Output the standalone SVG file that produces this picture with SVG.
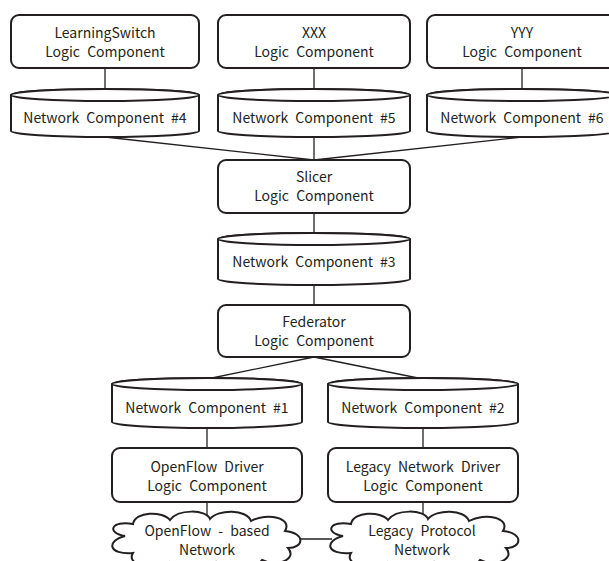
<svg xmlns="http://www.w3.org/2000/svg" width="609" height="561" viewBox="0 0 609 561">
  <defs>
    <style>
      .box { fill: #fff; stroke: #231f20; stroke-width: 2; }
      .cyl { fill: #fff; stroke: #231f20; stroke-width: 2; }
      .link { fill: none; stroke: #231f20; stroke-width: 1.3; }
      text { font-family: "Noto Sans CJK JP", "Noto Sans", sans-serif; font-size: 14px; fill: #231f20; text-anchor: middle; word-spacing: 4px; }
    </style>
    <!-- cloud outline, centred on the origin -->
    <path id="cloud" d="M -80,-3 C -99,-6 -94,-19 -72,-15 C -70,-28 -42,-28 -35,-19 C -27,-30 1,-30 5,-20 C 13,-30 42,-30 46,-18 C 62,-27 88,-21 80,-8 C 101,-6 99,9 83,9 C 93,21 71,28 57,21 C 49,32 17,32 11,23 C 1,33 -29,33 -36,23 C -50,30 -80,27 -72,14 C -97,16 -99,2 -80,-3 Z"/>
  </defs>

  <g id="connectors">
    <line class="link" x1="105" y1="68" x2="105" y2="89"/>
    <line class="link" x1="314" y1="68" x2="314" y2="89"/>
    <line class="link" x1="522" y1="68" x2="522" y2="89"/>
    <line class="link" x1="105" y1="137" x2="314" y2="160"/>
    <line class="link" x1="314" y1="137" x2="314" y2="160"/>
    <line class="link" x1="522" y1="137" x2="314" y2="160"/>
    <line class="link" x1="314" y1="213" x2="314" y2="233"/>
    <line class="link" x1="314" y1="285" x2="314" y2="305"/>
    <line class="link" x1="314" y1="357" x2="207" y2="379"/>
    <line class="link" x1="314" y1="357" x2="423" y2="379"/>
    <line class="link" x1="207" y1="427" x2="207" y2="448"/>
    <line class="link" x1="423" y1="427" x2="423" y2="448"/>
    <line class="link" x1="207" y1="502" x2="207" y2="515"/>
    <line class="link" x1="423" y1="502" x2="423" y2="515"/>
    <line class="link" x1="298" y1="539" x2="332" y2="539"/>
  </g>

  <g id="learningswitch">
    <rect class="box" x="11" y="15" width="188" height="53" rx="8"/>
    <text x="105" y="38">LearningSwitch</text>
    <text x="105" y="57">Logic Component</text>
  </g>
  <g id="xxx">
    <rect class="box" x="218" y="15" width="192" height="53" rx="8"/>
    <text x="314" y="38">XXX</text>
    <text x="314" y="57">Logic Component</text>
  </g>
  <g id="yyy">
    <rect class="box" x="427" y="15" width="190" height="53" rx="8"/>
    <text x="522" y="38">YYY</text>
    <text x="522" y="57">Logic Component</text>
  </g>

  <g id="nc4">
    <path class="cyl" d="M 11,95 A 94,6 0 0 1 199,95 L 199,131 A 94,6 0 0 1 11,131 Z"/>
    <ellipse class="cyl" cx="105" cy="95" rx="94" ry="6"/>
    <text x="105" y="123">Network Component #4</text>
  </g>
  <g id="nc5">
    <path class="cyl" d="M 218,95 A 96,6 0 0 1 410,95 L 410,131 A 96,6 0 0 1 218,131 Z"/>
    <ellipse class="cyl" cx="314" cy="95" rx="96" ry="6"/>
    <text x="314" y="123">Network Component #5</text>
  </g>
  <g id="nc6">
    <path class="cyl" d="M 427,95 A 95,6 0 0 1 617,95 L 617,131 A 95,6 0 0 1 427,131 Z"/>
    <ellipse class="cyl" cx="522" cy="95" rx="95" ry="6"/>
    <text x="522" y="123">Network Component #6</text>
  </g>

  <g id="slicer">
    <rect class="box" x="218" y="160" width="192" height="53" rx="8"/>
    <text x="314" y="182">Slicer</text>
    <text x="314" y="201">Logic Component</text>
  </g>

  <g id="nc3">
    <path class="cyl" d="M 218,239 A 96,6 0 0 1 410,239 L 410,279 A 96,6 0 0 1 218,279 Z"/>
    <ellipse class="cyl" cx="314" cy="239" rx="96" ry="6"/>
    <text x="314" y="267">Network Component #3</text>
  </g>

  <g id="federator">
    <rect class="box" x="218" y="305" width="192" height="52" rx="8"/>
    <text x="314" y="327">Federator</text>
    <text x="314" y="346">Logic Component</text>
  </g>

  <g id="nc1">
    <path class="cyl" d="M 112,384 A 95,6 0 0 1 302,384 L 302,422 A 95,6 0 0 1 112,422 Z"/>
    <ellipse class="cyl" cx="207" cy="384" rx="95" ry="6"/>
    <text x="207" y="413">Network Component #1</text>
  </g>
  <g id="nc2">
    <path class="cyl" d="M 328,384 A 95,6 0 0 1 518,384 L 518,422 A 95,6 0 0 1 328,422 Z"/>
    <ellipse class="cyl" cx="423" cy="384" rx="95" ry="6"/>
    <text x="423" y="413">Network Component #2</text>
  </g>

  <g id="openflow-driver">
    <rect class="box" x="112" y="448" width="190" height="54" rx="8"/>
    <text x="207" y="472">OpenFlow Driver</text>
    <text x="207" y="491">Logic Component</text>
  </g>
  <g id="legacy-driver">
    <rect class="box" x="328" y="448" width="190" height="54" rx="8"/>
    <text x="423" y="472">Legacy Network Driver</text>
    <text x="423" y="491">Logic Component</text>
  </g>

  <g id="openflow-network">
    <use href="#cloud" class="box" transform="translate(205,539)"/>
    <text x="207" y="536">OpenFlow - based</text>
    <text x="207" y="555">Network</text>
  </g>
  <g id="legacy-network">
    <use href="#cloud" class="box" transform="translate(423,539)"/>
    <text x="422" y="536">Legacy Protocol</text>
    <text x="422" y="555">Network</text>
  </g>
</svg>
